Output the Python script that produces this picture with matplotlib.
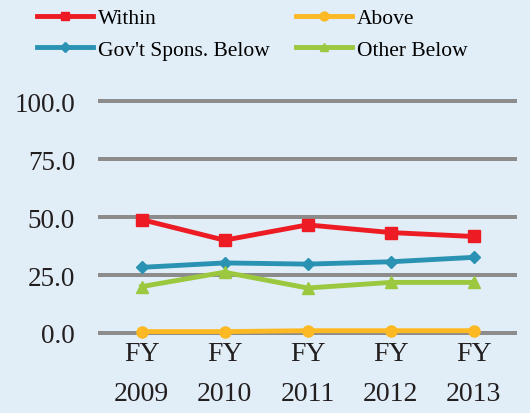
import matplotlib.pyplot as plt
import numpy as np

years = ["FY\n2009", "FY\n2010", "FY\n2011", "FY\n2012", "FY\n2013"]
within = [48.9, 40.0, 46.6, 43.3, 41.6]
above = [0.6, 0.6, 1.0, 1.0, 1.0]
gov_below = [28.3, 30.2, 29.7, 30.7, 32.6]
other_below = [20.0, 26.2, 19.4, 21.8, 21.8]

bg = '#e1eef7'
plt.rcParams['font.family'] = ['Liberation Serif', 'DejaVu Serif']

fig = plt.figure(figsize=(5.3, 4.14), dpi=100, facecolor=bg)
# 232 px tall so the 25-step gridlines land on whole pixels
ax = fig.add_axes([100 / 530, 80 / 414, 415 / 530, 232 / 414], facecolor=bg)

x = np.arange(len(years))
series = [
    ("Within", within, '#ed1c24', 's', 8),
    ("Above", above, '#fdb924', 'o', 8),
    ("Gov't Spons. Below", gov_below, '#2a93b4', 'D', 6),
    ("Other Below", other_below, '#9bc83f', '^', 8),
]
lines = {}
for name, vals, col, mk, ms in series:
    ln, = ax.plot(x, vals, color=col, lw=3.5, marker=mk, ms=ms, label=name,
                  clip_on=False, zorder=3)
    lines[name] = ln

ax.set_xlim(-0.5, 4.5)
ax.set_ylim(0, 100)
ax.set_yticks([0, 25, 50, 75, 100])
ax.set_yticklabels(["0.0", "25.0", "50.0", "75.0", "100.0"])
ax.set_xticks(x)
ax.set_xticklabels(years, linespacing=1.75)
ax.tick_params(axis='y', length=0, labelsize=19.5, pad=18, colors='#231f20')
ax.tick_params(axis='x', length=0, labelsize=20, pad=6, colors='#231f20')
ax.grid(axis='y', color='#8c8c8c', lw=2.88)
for gl in ax.get_ygridlines():
    gl.set_clip_on(False)  # keep the 0 and 100 lines full width
ax.set_axisbelow(True)
for s in ax.spines.values():
    s.set_visible(False)

# legend is filled column by column, so order to read row-wise
order = ["Within", "Gov't Spons. Below", "Above", "Other Below"]
fig.legend([lines[n] for n in order], order, loc='upper left',
           bbox_to_anchor=(0.034, 1.025), ncol=2, frameon=False,
           fontsize=15.5, handlelength=2.6, handletextpad=0.2,
           columnspacing=1.25, labelspacing=0.53, markerscale=0.8)

fig.savefig('out.png', dpi=100, facecolor=bg)
